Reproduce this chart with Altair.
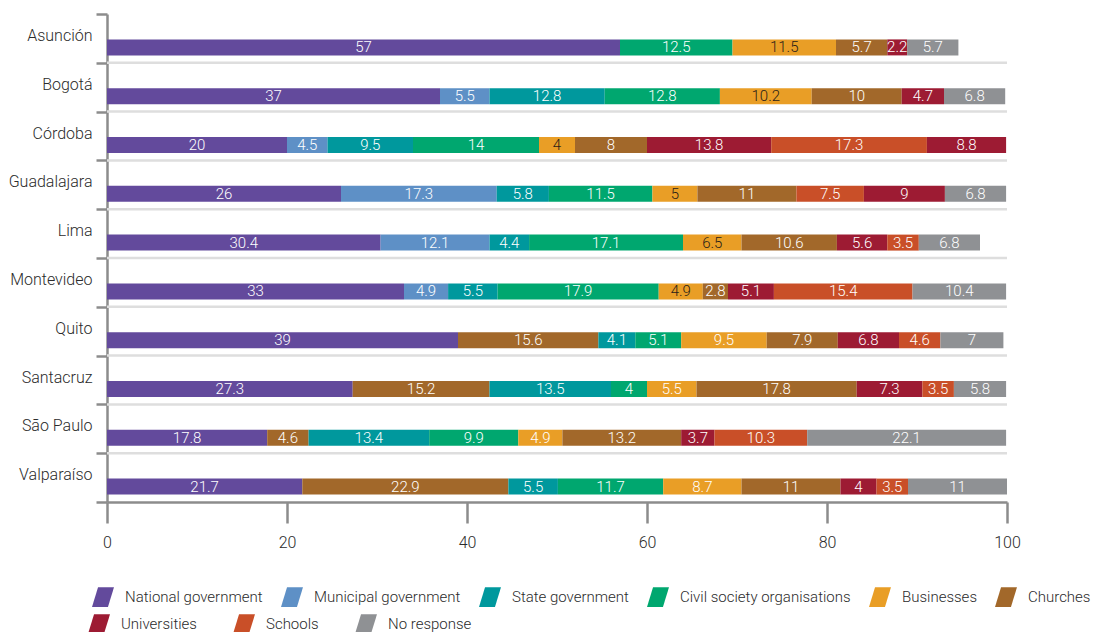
import altair as alt
import pandas as pd

# Who residents trust to solve local problems, share of answers (%) by city
cities = ["Asunción", "Bogotá", "Córdoba", "Guadalajara", "Lima",
          "Montevideo", "Quito", "Santacruz", "São Paulo", "Valparaíso"]

categories = ["National government", "Municipal government", "State government",
              "Civil society organisations", "Businesses", "Churches",
              "Universities", "Schools", "No response"]
colors = ["#634a9c", "#5e90c6", "#00989d", "#00a76f", "#e99e26",
          "#a2682a", "#9d1b33", "#c94f28", "#8f9194"]

# segments of each bar, left to right: (category, value)
asuncion = [("National government", 57), ("Civil society organisations", 12.5),
            ("Businesses", 11.5), ("Churches", 5.7), ("Universities", 2.2),
            ("No response", 5.7)]
bogota = [("National government", 37), ("Municipal government", 5.5),
          ("State government", 12.8), ("Civil society organisations", 12.8),
          ("Businesses", 10.2), ("Churches", 10), ("Universities", 4.7),
          ("No response", 6.8)]
cordoba = [("National government", 20), ("Municipal government", 4.5),
           ("State government", 9.5), ("Civil society organisations", 14),
           ("Businesses", 4), ("Churches", 8), ("Universities", 13.8),
           ("Schools", 17.3), ("Universities", 8.8)]
guadalajara = [("National government", 26), ("Municipal government", 17.3),
               ("State government", 5.8), ("Civil society organisations", 11.5),
               ("Businesses", 5), ("Churches", 11), ("Schools", 7.5),
               ("Universities", 9), ("No response", 6.8)]
lima = [("National government", 30.4), ("Municipal government", 12.1),
        ("State government", 4.4), ("Civil society organisations", 17.1),
        ("Businesses", 6.5), ("Churches", 10.6), ("Universities", 5.6),
        ("Schools", 3.5), ("No response", 6.8)]
montevideo = [("National government", 33), ("Municipal government", 4.9),
              ("State government", 5.5), ("Civil society organisations", 17.9),
              ("Businesses", 4.9), ("Churches", 2.8), ("Universities", 5.1),
              ("Schools", 15.4), ("No response", 10.4)]
quito = [("National government", 39), ("Churches", 15.6),
         ("State government", 4.1), ("Civil society organisations", 5.1),
         ("Businesses", 9.5), ("Churches", 7.9), ("Universities", 6.8),
         ("Schools", 4.6), ("No response", 7)]
santacruz = [("National government", 27.3), ("Churches", 15.2),
             ("State government", 13.5), ("Civil society organisations", 4),
             ("Businesses", 5.5), ("Churches", 17.8), ("Universities", 7.3),
             ("Schools", 3.5), ("No response", 5.8)]
sao_paulo = [("National government", 17.8), ("Churches", 4.6),
             ("State government", 13.4), ("Civil society organisations", 9.9),
             ("Businesses", 4.9), ("Churches", 13.2), ("Universities", 3.7),
             ("Schools", 10.3), ("No response", 22.1)]
valparaiso = [("National government", 21.7), ("Churches", 22.9),
              ("State government", 5.5), ("Civil society organisations", 11.7),
              ("Businesses", 8.7), ("Churches", 11), ("Universities", 4),
              ("Schools", 3.5), ("No response", 11)]

segments = [asuncion, bogota, cordoba, guadalajara, lima,
            montevideo, quito, santacruz, sao_paulo, valparaiso]

# cities whose "Businesses" label is printed in dark ink
dark_label_cities = cities[:6]

rows = []
for city, segs in zip(cities, segments):
    for i, (cat, val) in enumerate(segs):
        rows.append({"city": city, "category": cat, "value": val, "seq": i,
                     "label": f"{val:g}"})
df = pd.DataFrame(rows)

# separators drawn between neighbouring rows
sep_df = pd.DataFrame({"city": cities[1:], "start": 0, "end": 100})

FONT = "Roboto"
INK = "#2b2b2b"
AXIS_GREY = "#8c8c8c"
SLANT = "M -0.45,-0.9 L 1,-0.9 L 0.45,0.9 L -1,0.9 Z"

y_scale = alt.Scale(domain=cities, paddingInner=0, paddingOuter=0)

y_enc = alt.Y(
    "city:N", sort=cities, title=None, scale=y_scale,
    axis=alt.Axis(
        tickBand="extent", tickSize=11, tickWidth=2.5, tickColor=AXIS_GREY,
        domainColor=AXIS_GREY, domainWidth=2.5, grid=False,
        labelFont=FONT, labelFontWeight=300, labelFontSize=16,
        labelColor=INK, labelPadding=4, labelOffset=-3,
    ),
)

x_enc = alt.X(
    "x0:Q", title=None,
    scale=alt.Scale(domain=[0, 100], nice=False, zero=True),
    axis=alt.Axis(
        values=[0, 20, 40, 60, 80, 100], grid=False, labelFlush=False,
        domainColor=AXIS_GREY, domainWidth=2.5,
        tickColor=AXIS_GREY, tickWidth=2.5, tickSize=21,
        labelFont=FONT, labelFontWeight=300, labelFontSize=16,
        labelColor=INK, labelPadding=11,
    ),
)

separators = alt.Chart(sep_df).mark_rule(color="#dedede", strokeWidth=2.5).encode(
    y=alt.Y("city:N", sort=cities, bandPosition=0, scale=y_scale, title=None),
    x=alt.X("start:Q"),
    x2="end:Q",
)

base = alt.Chart(df).transform_stack(
    stack="value", groupby=["city"], as_=["x0", "x1"],
    sort=[alt.SortField("seq", order="ascending")],
).transform_calculate(mid="(datum.x0 + datum.x1) / 2")

bars = base.mark_bar(height=16, yOffset=9).encode(
    x=x_enc,
    x2="x1:Q",
    y=y_enc,
    color=alt.Color("category:N",
                    scale=alt.Scale(domain=categories, range=colors),
                    legend=None),
    order=alt.Order("seq:Q"),
)


def legend_layer(cats, legend_x, legend_y, col_pad):
    """Invisible copy of the bars whose colour scale carries one legend row."""
    cols = [colors[categories.index(c)] for c in cats]
    return base.mark_bar(height=16, yOffset=9, opacity=0).encode(
        x="x0:Q", x2="x1:Q", y=alt.Y("city:N", sort=cities, scale=y_scale),
        color=alt.Color(
            "category:N",
            scale=alt.Scale(domain=cats, range=cols),
            legend=alt.Legend(
                title=None, orient="none", legendX=legend_x, legendY=legend_y,
                direction="horizontal", columns=len(cats),
                symbolType=SLANT, symbolSize=484, symbolStrokeWidth=0,
                symbolOpacity=1,
                labelFont=FONT, labelFontWeight=300, labelFontSize=15,
                labelColor=INK, labelOffset=11, columnPadding=col_pad,
                labelLimit=300,
            ),
        ),
    )


legend_row1 = legend_layer(categories[:6], -15, 572, 18)
legend_row2 = legend_layer(categories[6:], -19, 599, 36)

dark_test = (
    "datum.category == 'Businesses' && indexof("
    + str(dark_label_cities) + ", datum.city) >= 0"
)

labels = base.mark_text(
    font=FONT, fontWeight=300, fontSize=15, baseline="middle", align="center", dy=9
).encode(
    x="mid:Q",
    y=alt.Y("city:N", sort=cities, scale=y_scale),
    text="label:N",
    color=alt.condition(dark_test, alt.value("#2a2118"), alt.value("#ffffff")),
)

chart = alt.layer(
    separators, bars, legend_row1, legend_row2, labels
).resolve_scale(color="independent").properties(
    width=900, height=488,
    background="white",
    autosize=alt.AutoSizeParams(type="none"),
    padding={"left": 107, "top": 14, "right": 97, "bottom": 130},
).configure_view(stroke=None)

chart.save("out.html", embed_options={"renderer": "svg", "actions": False})
